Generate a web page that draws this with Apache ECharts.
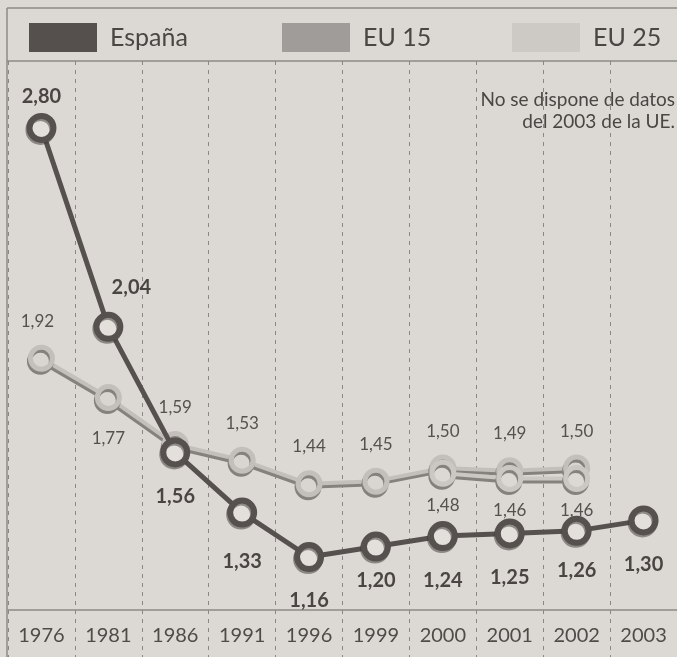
<!DOCTYPE html>
<html>
<head>
<meta charset="utf-8">
<script src="https://cdn.jsdelivr.net/npm/echarts@6/dist/echarts.min.js"></script>
<style>
  html, body { margin: 0; padding: 0; background: #dcd9d4; }
  #chart { width: 677px; height: 657px; }
</style>
</head>
<body>
<div id="chart"></div>
<script>
// ---- data ----
const years = ['1976', '1981', '1986', '1991', '1996', '1999', '2000', '2001', '2002', '2003'];
const espana = [2.80, 2.04, 1.56, 1.33, 1.16, 1.20, 1.24, 1.25, 1.26, 1.30];
const eu15 = [1.92, 1.77, 1.59, 1.53, 1.44, 1.45, 1.50, 1.49, 1.50, null];
const eu25 = [null, null, null, null, null, null, 1.48, 1.46, 1.46, null];
const seriesNames = ['España', 'EU 15', 'EU 25'];
const noteLines = ['No se dispone de datos', 'del 2003 de la UE.'];

// ---- styling ----
const FONT = 'Lato, "Open Sans", sans-serif';
const BG = '#dcd9d4';
const RULE = '#8d8a86';
const DARK = '#56514e';
const fmt = p => p.value == null ? '' : p.value.toFixed(2).replace('.', ',');

// per-point label placement tweaks (index -> label options)
const espLabelTweaks = {
  0: { position: 'top', distance: 6 },
  1: { position: 'top', distance: 14, offset: [23, 0] },
  3: { distance: 24 },
  5: { distance: 9 },
  8: { distance: 15 }
};
const eu15LabelTweaks = {
  0: { offset: [-4, 0] },
  1: { position: 'bottom', distance: 19 }
};

function build(values, tweaks) {
  return values.map((v, i) => {
    if (tweaks[i]) return { value: v, label: tweaks[i] };
    return v;
  });
}

const euShadow = { shadowColor: '#85827e', shadowBlur: 0, shadowOffsetX: -1, shadowOffsetY: 3 };

const chart = echarts.init(document.getElementById('chart'), null, { renderer: 'canvas' });

function legendFor(name, left, color) {
  return {
    data: [{ name: name, icon: 'rect',
      itemStyle: { color: color, borderWidth: 0, shadowColor: 'transparent', shadowBlur: 0, shadowOffsetX: 0, shadowOffsetY: 0 } }],
    left: left, top: 23, padding: 0,
    itemWidth: 68, itemHeight: 29,
    selectedMode: false,
    textStyle: { fontFamily: FONT, fontSize: 25, color: '#4a4643', padding: [0, 0, 0, 8] }
  };
}

const noteGraphics = noteLines.map((t, i) => ({
  type: 'text', x: 675, y: 90 + i * 22,
  style: { text: t, font: '19px ' + FONT, fill: '#4a4643', align: 'right', verticalAlign: 'top' }
}));

chart.setOption({
  backgroundColor: BG,
  animation: false,
  legend: [
    legendFor(seriesNames[0], 29, '#55504d'),
    legendFor(seriesNames[1], 282, '#9f9c99'),
    legendFor(seriesNames[2], 512, '#cdcac6')
  ],
  grid: { left: 8, right: -3, top: 61, bottom: 47, containLabel: false },
  xAxis: {
    type: 'category',
    data: years,
    boundaryGap: true,
    axisLine: { show: true, lineStyle: { color: RULE, width: 1.5 } },
    axisTick: { show: true, length: 47, lineStyle: { color: '#8a8784', width: 1, type: [4, 5] } },
    axisLabel: { fontFamily: FONT, fontSize: 20, color: '#4f4b48', margin: 16, interval: 0 },
    splitLine: { show: true, lineStyle: { color: '#8a8784', width: 1, type: [4, 5] } }
  },
  yAxis: {
    type: 'value',
    min: 0.9575,
    max: 3.056,
    show: false,
    splitLine: { show: false }
  },
  graphic: [
    { type: 'line', shape: { x1: 7, y1: 8, x2: 677, y2: 8 }, style: { stroke: RULE, lineWidth: 1.5 } },
    { type: 'line', shape: { x1: 7, y1: 8, x2: 7, y2: 657 }, style: { stroke: RULE, lineWidth: 1.5 } },
    { type: 'line', shape: { x1: 7, y1: 61, x2: 677, y2: 61 }, style: { stroke: RULE, lineWidth: 1.5 } }
  ].concat(noteGraphics),
  series: [
    {
      name: seriesNames[1], type: 'line', data: build(eu15, eu15LabelTweaks), z: 2,
      symbol: 'circle', symbolSize: 22, showAllSymbol: true, connectNulls: false,
      lineStyle: Object.assign({ color: '#c3c0bc', width: 4 }, euShadow),
      itemStyle: Object.assign({ color: '#d9d6d2', borderColor: '#c3c0bc', borderWidth: 5 }, euShadow),
      label: { show: true, position: 'top', distance: 15, formatter: fmt,
        fontFamily: FONT, fontSize: 17, color: '#55514e' }
    },
    {
      name: seriesNames[2], type: 'line', data: eu25, z: 3,
      symbol: 'circle', symbolSize: 22, showAllSymbol: true, connectNulls: false,
      lineStyle: Object.assign({ color: '#cbc8c4', width: 4 }, euShadow),
      itemStyle: Object.assign({ color: '#dcd9d5', borderColor: '#cbc8c4', borderWidth: 5 }, euShadow),
      label: { show: true, position: 'bottom', distance: 10, formatter: fmt,
        fontFamily: FONT, fontSize: 17, color: '#55514e' }
    },
    {
      name: seriesNames[0], type: 'line', data: build(espana, espLabelTweaks), z: 4,
      symbol: 'circle', symbolSize: 24, showAllSymbol: true,
      lineStyle: { color: DARK, width: 5 },
      itemStyle: { color: '#e3e0dc', borderColor: DARK, borderWidth: 6,
        shadowColor: 'rgba(60,55,52,0.5)', shadowBlur: 0, shadowOffsetX: -1, shadowOffsetY: 2 },
      label: { show: true, position: 'bottom', distance: 19, formatter: fmt,
        fontFamily: FONT, fontSize: 20, fontWeight: 'bold', color: '#4a4542' }
    }
  ]
});
</script>
</body>
</html>
